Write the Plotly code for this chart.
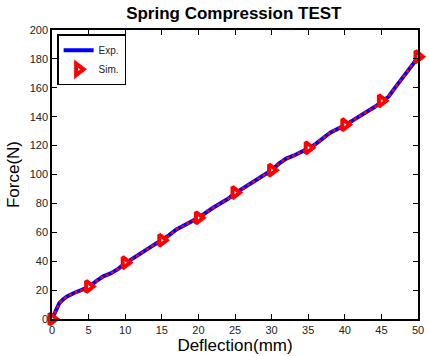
import plotly.graph_objects as go

# Experimental curve (Deflection mm, Force N)
exp_x = [0, 0.5, 1, 1.5, 2, 3, 4, 5, 6, 7, 8, 9, 10, 12, 14, 15, 16, 17, 18, 20,
         22, 24, 25, 26, 28, 30, 31, 32, 33, 35, 36, 37, 38, 40, 42, 44, 45, 46,
         47, 48, 49, 50]
exp_f = [0, 6, 11, 13.5, 15.5, 18, 20, 22, 26, 29.5, 31.5, 34.5, 38.5, 45, 51.5,
         54.5, 58, 62, 64.5, 70, 77, 83, 87, 90, 96.5, 103, 107.5, 111, 113, 118,
         121, 125, 129, 134, 140, 146.5, 150, 154, 161, 168, 174.5, 181]

# Simulation markers
sim_x = [0, 5, 10, 15, 20, 25, 30, 35, 40, 45, 50]
sim_f = [0, 22.5, 39, 54.5, 70, 87.5, 103, 118.5, 134.5, 151, 181.5]

FONT = "Arial, Liberation Sans, sans-serif"

fig = go.Figure()
fig.add_trace(go.Scatter(x=exp_x, y=exp_f, mode="lines", name="Exp.",
                         line=dict(color="#0000ff", width=4)))
fig.add_trace(go.Scatter(x=exp_x, y=exp_f, mode="lines", showlegend=False,
                         line=dict(color="#ff0000", width=2.5, dash="dot")))
fig.add_trace(go.Scatter(x=sim_x, y=sim_f, mode="markers", name="Sim.",
                         cliponaxis=False,
                         marker=dict(symbol="triangle-right", size=10, color="white",
                                     line=dict(color="#ff0000", width=4))))

axis_common = dict(showline=True, linecolor="black", linewidth=1.5, mirror="ticks",
                   ticks="inside", ticklen=5, tickcolor="black", showgrid=False,
                   zeroline=False, automargin=False,
                   tickfont=dict(family=FONT, size=11, color="#222"))

fig.update_layout(
    width=429, height=356,
    margin=dict(l=52, r=11, t=30, b=37, autoexpand=False),
    paper_bgcolor="white", plot_bgcolor="white",
    title=dict(text="<b>Spring Compression TEST</b>", x=0.545, xanchor="center",
               y=0.962, yanchor="middle",
               font=dict(family=FONT, size=17, color="black")),
    xaxis=dict(range=[0, 50], tickvals=list(range(0, 51, 5)),
               title=dict(text="Deflection(mm)", standoff=4,
                          font=dict(family=FONT, size=17, color="black")),
               **axis_common),
    yaxis=dict(range=[0, 200], tickvals=list(range(0, 201, 20)),
               title=dict(text="Force(N)", standoff=6,
                          font=dict(family=FONT, size=17, color="black")),
               **axis_common),
    legend=dict(x=0.014, y=0.985, xanchor="left", yanchor="top",
                bgcolor="white", bordercolor="black", borderwidth=1.5,
                font=dict(family=FONT, size=10, color="#222"),
                tracegroupgap=0, itemwidth=30),
    showlegend=True,
)

fig.write_html("out.html")
